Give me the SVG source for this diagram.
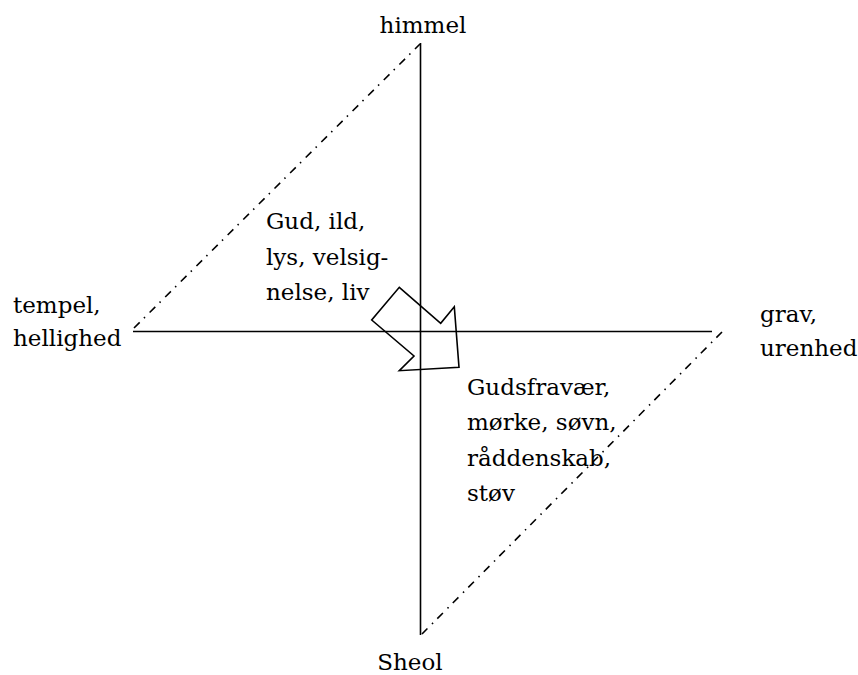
<svg xmlns="http://www.w3.org/2000/svg" width="858" height="675" viewBox="0 0 858 675">
<style>
text { font-family: "DejaVu Serif", "Liberation Serif", serif; font-size: 23px; fill: #000; }
.ln { stroke: #000; stroke-width: 1.6; fill: none; }
.dd { stroke: #000; stroke-width: 1.6; fill: none; stroke-dasharray: 8 6 1.5 6.5; }
</style>
<rect width="858" height="675" fill="#fff"/>
<g id="connectors">
<line class="ln" x1="420.5" y1="43" x2="420.5" y2="635"/>
<line class="ln" x1="133" y1="331.5" x2="712" y2="331.5"/>
<line class="dd" x1="134" y1="328" x2="420" y2="44"/>
<line class="dd" x1="722" y1="332" x2="422" y2="634"/>
<polygon class="ln" points="399.3,287.3 440.7,323.3 454.3,306.7 459,367.3 399.3,370.7 414,356 371.7,320"/>
</g>
<g id="himmel"><text x="423" y="33" text-anchor="middle">himmel</text></g>
<g id="sheol"><text x="410" y="670" text-anchor="middle">Sheol</text></g>
<g id="tempel"><text x="13" y="313">tempel,</text><text x="13" y="346">hellighed</text></g>
<g id="grav"><text x="760" y="322">grav,</text><text x="760" y="356">urenhed</text></g>
<g id="gud"><text x="266" y="229">Gud, ild,</text><text x="266" y="265">lys, velsig-</text><text x="266" y="300">nelse, liv</text></g>
<g id="gudsfravaer"><text x="467" y="395">Gudsfravær,</text><text x="467" y="430">mørke, søvn,</text><text x="467" y="466">råddenskab,</text><text x="467" y="501">støv</text></g>
</svg>
